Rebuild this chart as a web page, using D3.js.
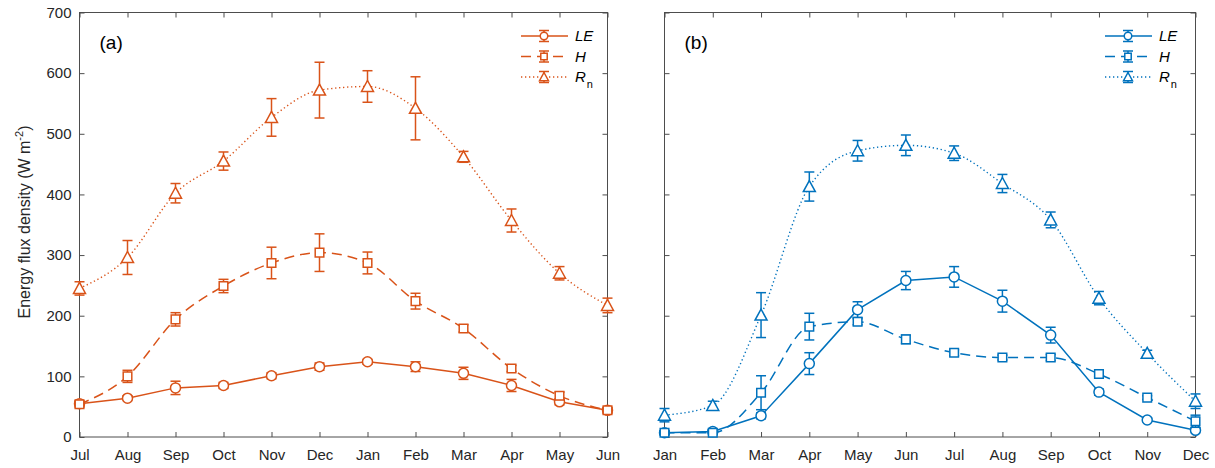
<!DOCTYPE html>
<html>
<head>
<meta charset="utf-8">
<script src="https://cdn.jsdelivr.net/npm/d3@7"></script>
<style>
  body { margin: 0; background: #fff; }
  text { font-family: "Liberation Sans", Arial, sans-serif; }
</style>
</head>
<body>
<script>
// months for the two panels
const monthsA = ["Jul", "Aug", "Sep", "Oct", "Nov", "Dec", "Jan", "Feb", "Mar", "Apr", "May", "Jun"];
const monthsB = ["Jan", "Feb", "Mar", "Apr", "May", "Jun", "Jul", "Aug", "Sep", "Oct", "Nov", "Dec"];

// panel (a)
const leA = [55, 64, 81, 85, 101, 116, 124, 116, 105, 85, 58, 44];
const leErrA = [4, 4, 11, 5, 5, 6, 4, 8, 10, 10, 5, 4];
const hA = [54, 100, 194, 249, 287, 304, 287, 224, 179, 113, 68, 44];
const hErrA = [5, 10, 11, 11, 26, 31, 18, 13, 6, 5, 6, 5];
const rnA = [245, 296, 402, 455, 527, 572, 578, 542, 462, 357, 270, 217];
const rnErrA = [11, 28, 16, 15, 31, 46, 26, 52, 9, 19, 11, 12];

// panel (b)
const leB = [7, 9, 35, 121, 210, 258, 264, 224, 168, 74, 28, 11];
const leErrB = [3, 3, 5, 18, 13, 15, 17, 18, 13, 5, 3, 4];
const hB = [7, 7, 73, 182, 190, 161, 139, 131, 131, 104, 65, 26];
const hErrB = [3, 3, 28, 22, 5, 7, 5, 4, 5, 4, 3, 10];
const rnB = [36, 52, 201, 413, 472, 481, 468, 418, 358, 229, 138, 59];
const rnErrB = [11, 7, 37, 24, 17, 17, 12, 15, 13, 11, 5, 12];

const yTicks = [0, 100, 200, 300, 400, 500, 600, 700];

const orange = "#D95319";
const blue = "#0072BD";
const axisColor = "#4d4d4d";
const textColor = "#262626";

const W = 1215, H = 468;
const yTop = 12.5, yBottom = 437;

const svg = d3.select("body").append("svg")
    .attr("width", W)
    .attr("height", H);

const y = d3.scaleLinear().domain([0, 700]).range([yBottom, yTop]);

function markerPath(type) {
    if (type === "circle") return d3.symbol(d3.symbolCircle, Math.PI * 25)();
    if (type === "square") return "M-4.3,-4.3H4.3V4.3H-4.3Z";
    return "M0,-6L6,5L-6,5Z";
}

function drawPanel(opt) {
    const x = d3.scalePoint().domain(opt.months).range([opt.x0, opt.x1]);
    const g = svg.append("g");

    // box
    g.append("rect")
        .attr("x", opt.x0).attr("y", yTop)
        .attr("width", opt.x1 - opt.x0).attr("height", yBottom - yTop)
        .attr("fill", "none").attr("stroke", axisColor).attr("stroke-width", 1);

    const styleAxis = sel => {
        sel.select(".domain").remove();
        sel.selectAll("line").attr("stroke", axisColor);
        sel.selectAll("text").attr("fill", textColor).style("font-size", "15px")
            .style("font-family", "'Liberation Sans', Arial, sans-serif");
    };

    g.append("g").attr("transform", `translate(0,${yBottom})`)
        .call(d3.axisBottom(x).tickSize(-5).tickPadding(12))
        .call(styleAxis);
    g.append("g").attr("transform", `translate(0,${yTop})`)
        .call(d3.axisTop(x).tickSize(-5).tickFormat(""))
        .call(styleAxis);
    g.append("g").attr("transform", `translate(${opt.x0},0)`)
        .call(d3.axisLeft(y).tickValues(yTicks).tickSize(-5).tickPadding(8)
            .tickFormat(opt.yLabels ? d3.format("d") : ""))
        .call(styleAxis);
    g.append("g").attr("transform", `translate(${opt.x1},0)`)
        .call(d3.axisRight(y).tickValues(yTicks).tickSize(-5).tickFormat(""))
        .call(styleAxis);

    opt.series.forEach(s => {
        const pts = opt.months.map((m, i) => ({ m: m, v: s.v[i], e: s.e[i] }));
        const line = d3.line()
            .x(d => x(d.m))
            .y(d => y(d.v))
            .curve(s.curve);
        g.append("path")
            .datum(pts)
            .attr("d", line)
            .attr("fill", "none")
            .attr("stroke", opt.color)
            .attr("stroke-width", s.width)
            .attr("stroke-dasharray", s.dash);

        const eb = g.append("g").selectAll("g")
            .data(pts)
            .join("g")
            .attr("transform", d => `translate(${x(d.m)},0)`);
        eb.append("line")
            .attr("y1", d => y(d.v - d.e)).attr("y2", d => y(d.v + d.e))
            .attr("stroke", opt.color).attr("stroke-width", 1.5);
        eb.append("line")
            .attr("x1", -5).attr("x2", 5)
            .attr("y1", d => y(d.v - d.e)).attr("y2", d => y(d.v - d.e))
            .attr("stroke", opt.color).attr("stroke-width", 1.5);
        eb.append("line")
            .attr("x1", -5).attr("x2", 5)
            .attr("y1", d => y(d.v + d.e)).attr("y2", d => y(d.v + d.e))
            .attr("stroke", opt.color).attr("stroke-width", 1.5);
        eb.append("path")
            .attr("d", markerPath(s.marker))
            .attr("transform", d => `translate(0,${y(d.v)})`)
            .attr("fill", "#fff")
            .attr("stroke", opt.color)
            .attr("stroke-width", 1.5);
    });

    // panel label
    g.append("text")
        .attr("x", opt.x0 + 20).attr("y", 49)
        .attr("fill", "#000")
        .style("font-size", "19px")
        .text(opt.label);

    // legend
    const lg = g.append("g");
    opt.series.forEach((s, i) => {
        const ly = 36 + i * 20.5;
        const cx = opt.legX + 23;
        lg.append("line")
            .attr("x1", opt.legX).attr("x2", opt.legX + 47)
            .attr("y1", ly).attr("y2", ly)
            .attr("stroke", opt.color).attr("stroke-width", s.width)
            .attr("stroke-dasharray", s.dash);
        lg.append("line").attr("x1", cx).attr("x2", cx)
            .attr("y1", ly - 5.5).attr("y2", ly + 5.5)
            .attr("stroke", opt.color).attr("stroke-width", 1.5);
        lg.append("line").attr("x1", cx - 5).attr("x2", cx + 5)
            .attr("y1", ly - 5.5).attr("y2", ly - 5.5)
            .attr("stroke", opt.color).attr("stroke-width", 1.5);
        lg.append("line").attr("x1", cx - 5).attr("x2", cx + 5)
            .attr("y1", ly + 5.5).attr("y2", ly + 5.5)
            .attr("stroke", opt.color).attr("stroke-width", 1.5);
        lg.append("path")
            .attr("d", markerPath(s.marker))
            .attr("transform", `translate(${cx},${ly}) scale(0.75)`)
            .attr("fill", "#fff")
            .attr("stroke", opt.color)
            .attr("stroke-width", 2);
        const t = lg.append("text")
            .attr("x", opt.legX + 54).attr("y", ly + 5)
            .attr("fill", "#000")
            .style("font-size", "15px");
        t.append("tspan").style("font-style", "italic").text(s.name);
        if (s.sub) {
            t.append("tspan").attr("dx", 1).attr("dy", 6).style("font-size", "11px").text(s.sub);
        }
    });
}

const seriesOf = (le, leE, h, hE, rn, rnE) => [
    { name: "LE", v: le, e: leE, marker: "circle", dash: null, width: 1.5, curve: d3.curveLinear },
    { name: "H", v: h, e: hE, marker: "square", dash: "10,6", width: 1.5, curve: d3.curveMonotoneX },
    { name: "R", sub: "n", v: rn, e: rnE, marker: "triangle", dash: "1.3,2.7", width: 1.4, curve: d3.curveMonotoneX }
];

drawPanel({
    months: monthsA, x0: 79.5, x1: 607.5, color: orange, label: "(a)", yLabels: true, legX: 521,
    series: seriesOf(leA, leErrA, hA, hErrA, rnA, rnErrA)
});
drawPanel({
    months: monthsB, x0: 664.5, x1: 1195.5, color: blue, label: "(b)", yLabels: false, legX: 1105,
    series: seriesOf(leB, leErrB, hB, hErrB, rnB, rnErrB)
});

// y axis title
const yt = svg.append("text")
    .attr("transform", "translate(30,222) rotate(-90)")
    .attr("text-anchor", "middle")
    .attr("fill", textColor)
    .style("font-size", "16px");
yt.append("tspan").text("Energy flux density (W m");
yt.append("tspan").attr("dy", -7).style("font-size", "11px").text("-2");
yt.append("tspan").attr("dy", 7).text(")");
</script>
</body>
</html>
